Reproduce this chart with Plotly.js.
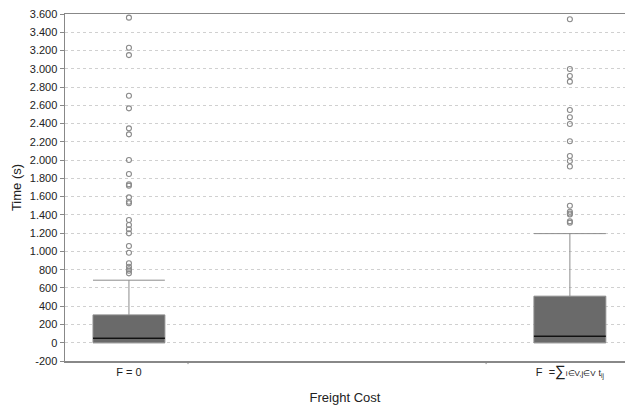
<!DOCTYPE html>
<html><head><meta charset="utf-8">
<script src="https://cdn.plot.ly/plotly-3.0.1.min.js"></script>
<style>html,body{margin:0;padding:0;background:#fff}#c{width:627px;height:406px}</style>
</head><body><div id="c"></div>
<script>
var categories = ["F = 0", "F  =<span style='font-size:15px'>∑</span><span style='font-size:8px'>i∈V,j∈V</span> <span style='font-size:9px'>t<sub>ij</sub></span>"];
var q1 = [0, 0];
var medians = [50, 70];
var q3 = [305, 510];
var lowerFence = [0, 0];
var upperFence = [685, 1195];
var outliersA = [3560, 3230, 3150, 2705, 2567, 2348, 2282, 2001, 1848, 1735, 1720, 1592, 1544, 1527, 1344, 1289, 1242, 1198, 1059, 986, 870, 832, 805, 789, 760];
var outliersB = [3542, 2998, 2921, 2859, 2549, 2469, 2395, 2206, 2045, 1990, 1930, 1500, 1435, 1415, 1405, 1330, 1315];
var yTickVals = [-200,0,200,400,600,800,1000,1200,1400,1600,1800,2000,2200,2400,2600,2800,3000,3200,3400,3600];
var yTickText = ["-200","0","200","400","600","800","1.000","1.200","1.400","1.600","1.800","2.000","2.200","2.400","2.600","2.800","3.000","3.200","3.400","3.600"];

var boxW = 0.163;
var traces = [
  {type:'box', x:categories, q1:q1, median:medians, q3:q3, lowerfence:lowerFence, upperfence:upperFence,
   boxpoints:false, width:boxW, whiskerwidth:1, fillcolor:'#6a6a6a',
   line:{color:'#8c8c8c', width:1}, hoverinfo:'skip', showlegend:false},
  {type:'box', x:categories, q1:medians, median:medians, q3:medians, lowerfence:medians, upperfence:medians,
   boxpoints:false, width:boxW, whiskerwidth:1, fillcolor:'rgba(0,0,0,0)',
   line:{color:'#111', width:1.5}, hoverinfo:'skip', showlegend:false},
  {type:'scatter', mode:'markers',
   x:outliersA.map(function(){return categories[0];}).concat(outliersB.map(function(){return categories[1];})),
   y:outliersA.concat(outliersB),
   marker:{symbol:'circle-open', size:5, color:'#8a8a8a', line:{width:1.1, color:'#8a8a8a'}},
   hoverinfo:'skip', showlegend:false}
];

var layout = {
  width:627, height:406,
  margin:{l:65, r:2, t:14, b:45},
  paper_bgcolor:'#fff', plot_bgcolor:'#fff',
  font:{family:'Liberation Sans, Arial, sans-serif', size:11, color:'#222'},
  boxmode:'overlay',
  showlegend:false,
  xaxis:{type:'category', categoryarray:categories, range:[-0.145,1.125],
    showline:true, linecolor:'#888', linewidth:1.5, mirror:true,
    showgrid:false, ticks:'', tickfont:{size:11, color:'#222'},
    title:{text:'Freight Cost', font:{size:13, color:'#222'}, standoff:14}},
  yaxis:{range:[-200,3600], tickvals:yTickVals, ticktext:yTickText,
    showline:true, linecolor:'#888', linewidth:1.5,
    ticks:'outside', ticklen:4, tickcolor:'#888',
    showgrid:true, gridcolor:'#d0d0d0', griddash:'3px,3px', gridwidth:1,
    zeroline:false, tickfont:{size:11, color:'#222'},
    title:{text:'Time (s)', font:{size:13, color:'#222'}, standoff:5}},
  shapes:[
    {type:'line', xref:'x', yref:'paper', x0:0.134, x1:0.134, y0:0, y1:-0.009, line:{color:'#888', width:1}},
    {type:'line', xref:'x', yref:'paper', x0:0.81, x1:0.81, y0:0, y1:-0.009, line:{color:'#888', width:1}}
  ]
};
Plotly.newPlot('c', traces, layout, {staticPlot:true, displayModeBar:false});
</script></body></html>
